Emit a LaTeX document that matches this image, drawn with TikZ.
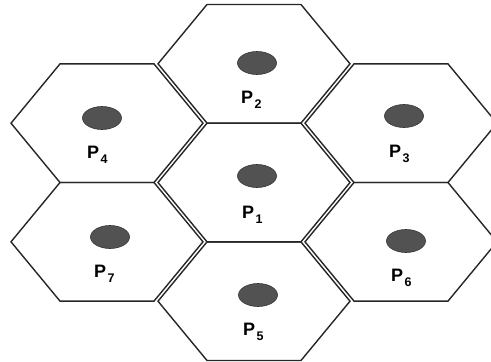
\documentclass[tikz,border=0pt]{standalone}
\usepackage{fontspec}
\setmainfont{Liberation Sans}
\usetikzlibrary{shapes.geometric}
\tikzset{
  hexline/.style={draw=black!85, line width=1.4pt, line join=miter},
  dot/.style={ellipse, fill=black!68, draw=black!80, line width=0.6pt,
    minimum width=39pt, minimum height=23pt, inner sep=0pt},
  plabel/.style={font=\fontsize{18}{18}\selectfont\bfseries, inner sep=0pt, anchor=base west}
}
\newcommand\hexcell[2]{%
  \draw[hexline] ({#1-96},{#2}) -- ({#1-47},{#2-59.3}) -- ({#1+47},{#2-59.3})
    -- ({#1+96},{#2}) -- ({#1+47},{#2+59.3}) -- ({#1-47},{#2+59.3}) -- cycle;}
\newcommand\plab[1]{P\kern1.5pt\raisebox{-5.5pt}{\fontsize{12.5}{12.5}\selectfont\bfseries #1}}
\begin{document}
\begin{tikzpicture}[x=1pt,y=-1pt]
\useasboundingbox (0,0) rectangle (491,362);
\begin{scope}
\clip (0,0) rectangle (491,362);
\hexcell{254}{182.5}
\hexcell{254}{63.8}
\hexcell{254}{301.2}
\hexcell{107}{123.2}
\hexcell{107}{241.8}
\hexcell{401}{123.2}
\hexcell{401}{241.8}
\end{scope}
% dots
\node[dot] (d1) at (257,176) {};
\node[dot] (d2) at (257,63) {};
\node[dot] (d3) at (404,116) {};
\node[dot] (d4) at (102,118) {};
\node[dot] (d5) at (258,295) {};
\node[dot] (d6) at (406,241) {};
\node[dot] (d7) at (110,237) {};
% labels
\node[plabel] (l1) at (242,218) {\plab{1}};
\node[plabel] (l2) at (241,103) {\plab{2}};
\node[plabel] (l3) at (389,157) {\plab{3}};
\node[plabel] (l4) at (87,158) {\plab{4}};
\node[plabel] (l5) at (243,335) {\plab{5}};
\node[plabel] (l6) at (391,281) {\plab{6}};
\node[plabel] (l7) at (94,277) {\plab{7}};
\end{tikzpicture}
\end{document}
